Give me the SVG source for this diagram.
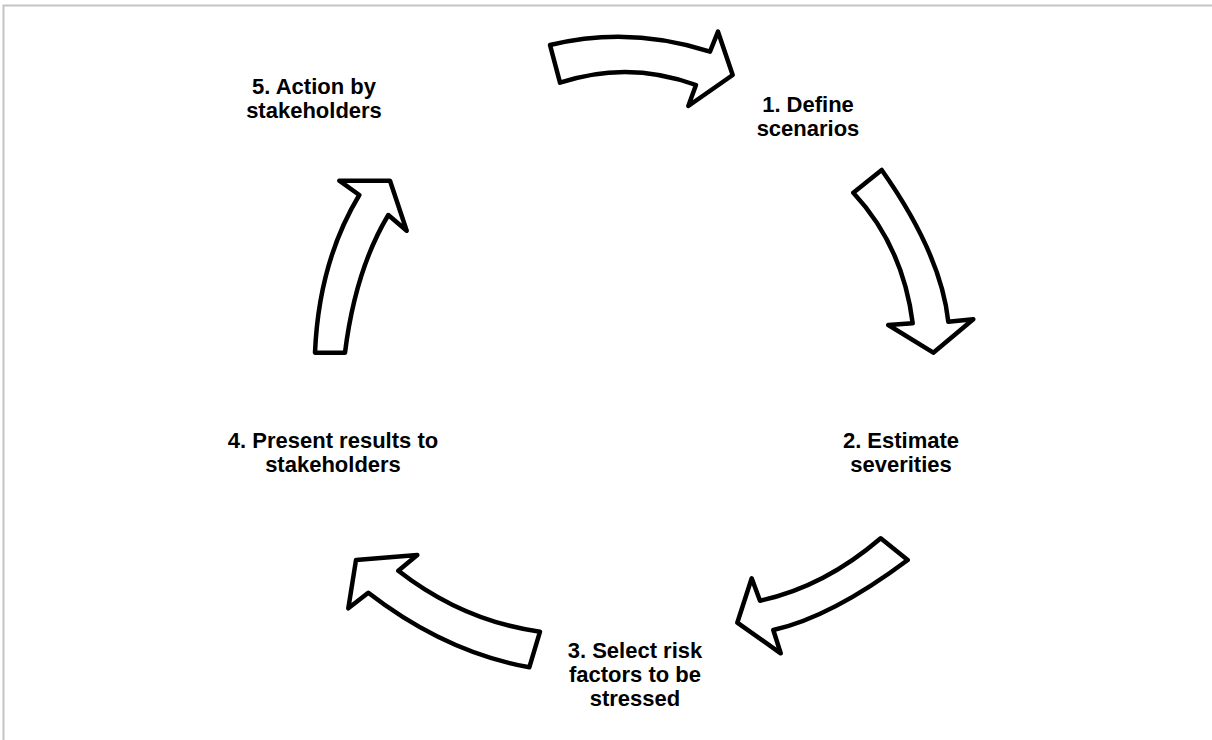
<svg xmlns="http://www.w3.org/2000/svg" width="1212" height="740" viewBox="0 0 1212 740">
<style>
.arrow{fill:#ffffff;stroke:#000000;stroke-width:4.5;stroke-linejoin:round}
.lbl{font-family:"Liberation Sans",Arial,sans-serif;font-size:22px;font-weight:bold;fill:#000000;text-anchor:middle}
.frame{stroke:#c4c4c4;stroke-width:2;fill:none}
</style>
<rect width="1212" height="740" fill="#ffffff"/>
<path class="frame" d="M3.5,740 V5.5 H1212"/>
<g id="connectors">
<path id="arrow1" class="arrow" d="M550,45 Q630,25.6 710,51.7 L718,31.7 L732.7,75 L688.3,106 L696,85 Q628,60 560,82.7 Z"/>
<path id="arrow2" class="arrow" d="M881.7,170 Q941,254 948.3,321.7 L973.3,319.3 L933.3,352.7 L888.3,325 L912.7,323.3 Q903,246 853.3,192.7 Z"/>
<path id="arrow3" class="arrow" d="M907.7,560 Q831.5,617 773.3,630 L780.7,653.3 L737.3,622.7 L751.7,578.3 L760,600.7 Q824,587 880.7,538.3 Z"/>
<path id="arrow4" class="arrow" d="M529.3,667.3 Q445,652 368.3,592.7 L348.3,608.3 L356,560 L417.3,555 L398.3,570.7 Q463,621 540,631.7 Z"/>
<path id="arrow5" class="arrow" d="M345,352.7 Q355.3,270 388.3,215 L406.7,230.7 L390,180.7 L339.3,180.7 L359.3,195 Q318.8,262 315,352.7 Z"/>
</g>
<g id="step1"><text class="lbl" x="808" y="112">1. Define<tspan x="808" dy="24">scenarios</tspan></text></g>
<g id="step2"><text class="lbl" x="901" y="448">2. Estimate<tspan x="901" dy="24">severities</tspan></text></g>
<g id="step3"><text class="lbl" x="635" y="658">3. Select risk<tspan x="635" dy="24">factors to be</tspan><tspan x="635" dy="24">stressed</tspan></text></g>
<g id="step4"><text class="lbl" x="333" y="448">4. Present results to<tspan x="333" dy="24">stakeholders</tspan></text></g>
<g id="step5"><text class="lbl" x="314" y="94">5. Action by<tspan x="314" dy="24">stakeholders</tspan></text></g>
</svg>
